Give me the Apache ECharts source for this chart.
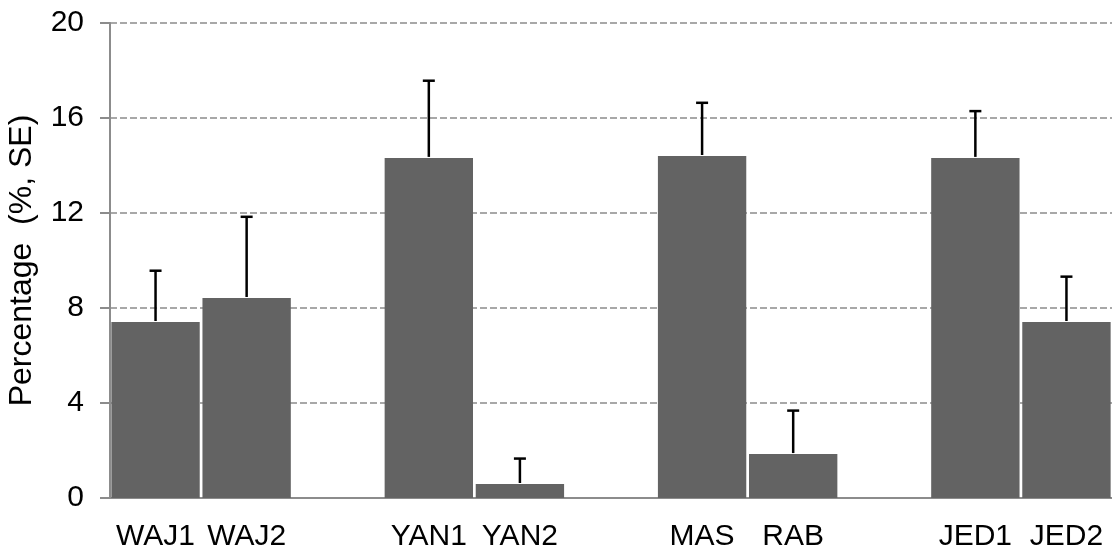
<!DOCTYPE html>
<html>
<head>
<meta charset="utf-8">
<script src="https://cdn.jsdelivr.net/npm/echarts@6/dist/echarts.min.js"></script>
<style>
html,body{margin:0;padding:0;background:#fff;}
#chart{width:1112px;height:550px;}
</style>
</head>
<body>
<div id="chart"></div>
<script>
const categories = ['WAJ1', 'WAJ2', '', 'YAN1', 'YAN2', '', 'MAS', 'RAB', '', 'JED1', 'JED2'];
const values = [7.41, 8.42, null, 14.32, 0.59, null, 14.4, 1.85, null, 14.32, 7.41];
const seValues = [2.16, 3.42, null, 3.25, 1.07, null, 2.24, 1.83, null, 1.97, 1.91];
const yTicks = [0, 4, 8, 12, 16, 20];
const yName = 'Percentage  (%, SE)';

const font = '"Liberation Sans", Arial, sans-serif';
const gray = '#8c8c8c';

const barData = values.map(v => v == null ? '-' : v);
const errData = [];
values.forEach((v, i) => { if (v != null) errData.push([i, v, v + seValues[i]]); });

const chart = echarts.init(document.getElementById('chart'), null, {renderer: 'canvas'});
chart.setOption({
  animation: false,
  backgroundColor: '#fff',
  grid: {left: 110, right: 0, top: 23, bottom: 52, containLabel: false, outerBoundsMode: 'none'},
  xAxis: {
    type: 'category',
    data: categories,
    axisLine: {show: true, lineStyle: {color: gray, width: 2}},
    axisTick: {show: false},
    axisLabel: {fontFamily: font, fontSize: 30, color: '#000', margin: 24, interval: 0}
  },
  yAxis: {
    type: 'value',
    min: yTicks[0],
    max: yTicks[yTicks.length - 1],
    interval: yTicks[1] - yTicks[0],
    name: yName,
    nameLocation: 'middle',
    nameGap: 72,
    nameTextStyle: {fontFamily: font, fontSize: 32, color: '#000'},
    axisLine: {show: true, lineStyle: {color: gray, width: 2}},
    axisTick: {show: true, inside: false, length: 10, lineStyle: {color: gray, width: 2}},
    axisLabel: {fontFamily: font, fontSize: 30, color: '#000', margin: 26},
    splitLine: {show: true, lineStyle: {color: gray, width: 1.5, type: [7, 3]}}
  },
  series: [
    {
      type: 'bar',
      data: barData,
      barCategoryGap: '3%',
      itemStyle: {color: '#636363'},
      z: 2
    },
    {
      type: 'custom',
      data: errData,
      z: 3,
      renderItem: function (params, api) {
        const x = api.value(0);
        const base = api.coord([x, api.value(1)]);
        const top = api.coord([x, api.value(2)]);
        const half = 6;
        const style = {stroke: '#000', lineWidth: 2.5};
        return {
          type: 'group',
          children: [
            {type: 'line', shape: {x1: base[0], y1: base[1] - 1, x2: top[0], y2: top[1]}, style: style},
            {type: 'line', shape: {x1: top[0] - half, y1: top[1], x2: top[0] + half, y2: top[1]}, style: style}
          ]
        };
      }
    }
  ]
});
</script>
</body>
</html>
